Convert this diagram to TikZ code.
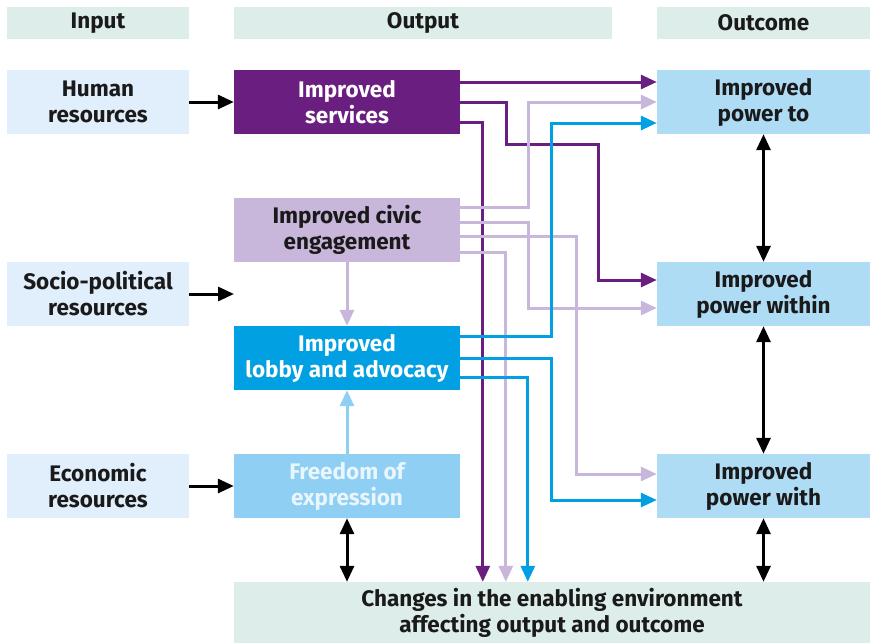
\documentclass[tikz,border=0pt]{standalone}
\usepackage{fontspec}
\setmainfont{Fira Sans}
\usetikzlibrary{calc,arrows.meta}

\definecolor{hdrgreen}{HTML}{DDEEEA}
\definecolor{resblue}{HTML}{E1EEFC}
\definecolor{outblue}{HTML}{AEDCF5}
\definecolor{svcpurple}{HTML}{6A1F80}
\definecolor{civlilac}{HTML}{C9B6DB}
\definecolor{lobblue}{HTML}{01A0E2}
\definecolor{freblue}{HTML}{8ECFF3}
\definecolor{fretext}{HTML}{EAF6FD}
\definecolor{txtdark}{HTML}{1A1A1A}

\begin{document}
\begin{tikzpicture}[x=1pt,y=-1pt,
    every node/.style={font=\fontsize{22.5}{26}\selectfont\bfseries, align=center, inner sep=0pt},
    hdr/.style={fill=hdrgreen, minimum height=32, text=txtdark},
    res/.style={fill=resblue, minimum width=182, minimum height=64, text=txtdark},
    outp/.style={minimum width=226, minimum height=64},
    outc/.style={fill=outblue, minimum width=213, minimum height=64, text=txtdark},
    conn/.style={line width=3pt, -{Triangle[length=16pt,width=14pt]}},
    both/.style={line width=3pt, {Triangle[length=16pt,width=14pt]}-{Triangle[length=16pt,width=14pt]}}]
		\useasboundingbox (0,0) rectangle (877,643);

		%headers
		\node[hdr, minimum width=182] (hin) at (98,23) {Input};
		\node[hdr, minimum width=378] (hout) at (423,23) {Output};
		\node[hdr, minimum width=213] (hoc) at (763.5,23) {Outcome};

		%input
		\node[res] (hum) at (98,102) {Human\\resources};
		\node[res] (soc) at (98,294) {Socio-political\\resources};
		\node[res] (eco) at (98,486) {Economic\\resources};
		\coordinate (socend) at (234,294);

		%output
		\node[outp, fill=svcpurple, text=white] (svc) at (347,102) {Improved\\services};
		\node[outp, fill=civlilac, text=txtdark] (civ) at (347,230) {Improved civic\\engagement};
		\node[outp, fill=lobblue, text=white] (lob) at (347,358) {Improved\\lobby and advocacy};
		\node[outp, fill=freblue, text=fretext] (fre) at (347,486) {Freedom of\\expression};

		%outcome
		\node[outc] (pto) at (763.5,102) {Improved\\power to};
		\node[outc] (pwi) at (763.5,294) {Improved\\power within};
		\node[outc] (pwh) at (763.5,486) {Improved\\power with};

		%enabling environment
		\node[fill=hdrgreen, text=txtdark, minimum width=636, minimum height=61] (env) at (552,612.5) {Changes in the enabling environment\\affecting output and outcome};

		%input to output
		\draw[conn] (hum) -- (svc);
		\draw[conn] (soc) -- (socend);
		\draw[conn] (eco) -- (fre);

		%services
		\draw[conn, svcpurple] ($(svc.east)+(0,-20)$) -- ($(pto.west)+(0,-20)$);
		\draw[conn, svcpurple] (svc.east) -| (506,144) -| (598,280) -- ($(pwi.west)+(0,-14)$);
		\draw[conn, svcpurple] ($(svc.east)+(0,20)$) -| ($(env.north west)+(249,0)$);

		%civic engagement
		\draw[conn, civlilac] ($(civ.east)+(0,-23)$) -| (528,102) -- (pto.west);
		\draw[conn, civlilac] ($(civ.east)+(0,-8)$) -| (528,308) -- ($(pwi.west)+(0,14)$);
		\draw[conn, civlilac] ($(civ.east)+(0,6)$) -| (576,474) -- ($(pwh.west)+(0,-12)$);
		\draw[conn, civlilac] ($(civ.east)+(0,22)$) -| ($(env.north west)+(272,0)$);
		\draw[conn, civlilac] (civ) -- (lob);

		%lobby and advocacy
		\draw[conn, lobblue] ($(lob.east)+(0,-22)$) -| (551,123) -- ($(pto.west)+(0,21)$);
		\draw[conn, lobblue] (lob.east) -| (551,500) -- ($(pwh.west)+(0,14)$);
		\draw[conn, lobblue] ($(lob.east)+(0,19)$) -| ($(env.north west)+(294,0)$);

		%freedom of expression
		\draw[conn, freblue] (fre) -- (lob);
		\draw[both] (fre) -- (fre |- env.north);

		%outcome links
		\draw[both] (pto) -- (pwi);
		\draw[both] (pwi) -- (pwh);
		\draw[both] (pwh) -- (pwh |- env.north);
\end{tikzpicture}
\end{document}
